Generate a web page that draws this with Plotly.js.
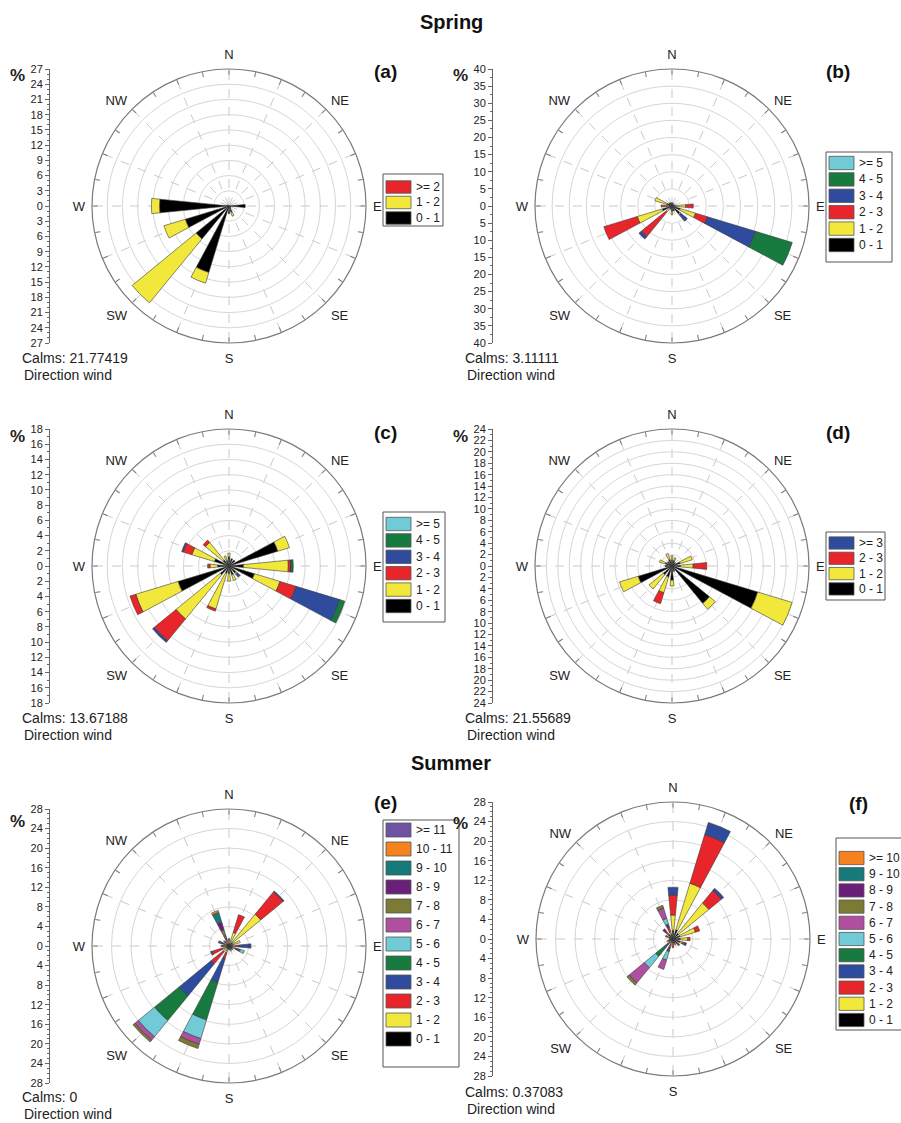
<!DOCTYPE html>
<html>
<head>
<meta charset="utf-8">
<script src="https://cdn.plot.ly/plotly-3.0.1.min.js"></script>
<style>
  html, body { margin: 0; padding: 0; background: #ffffff; }
  #chart { width: 901px; height: 1123px; }
</style>
</head>
<body>
<div id="chart"></div>
<script>
// Compass sectors (degrees clockwise from north) and their labels
const dirAngles = [0, 22.5, 45, 67.5, 90, 112.5, 135, 157.5, 180, 202.5, 225, 247.5, 270, 292.5, 315, 337.5];
const dirLabels = ['N', '', 'NE', '', 'E', '', 'SE', '', 'S', '', 'SW', '', 'W', '', 'NW', ''];

// Speed classes (m/s) for each rose
const binsA = ['0 - 1', '1 - 2', '>= 2'];
const binsB = ['0 - 1', '1 - 2', '2 - 3', '3 - 4', '4 - 5', '>= 5'];
const binsC = ['0 - 1', '1 - 2', '2 - 3', '3 - 4', '4 - 5', '>= 5'];
const binsD = ['0 - 1', '1 - 2', '2 - 3', '>= 3'];
const binsE = ['0 - 1', '1 - 2', '2 - 3', '3 - 4', '4 - 5', '5 - 6', '6 - 7', '7 - 8', '8 - 9', '9 - 10', '10 - 11', '>= 11'];
const binsF = ['0 - 1', '1 - 2', '2 - 3', '3 - 4', '4 - 5', '5 - 6', '6 - 7', '7 - 8', '8 - 9', '9 - 10', '>= 10'];

// Frequency (%) per speed class, one row per class, 16 directions N..NNW
const springA = [
  [0, 0, 0, 0, 3.2, 0.4, 0.4, 1.3, 1.5, 13.7, 8.4, 9.0, 13.7, 0.4, 0, 0],
  [0, 0, 0, 0, 0, 0, 0, 0.8, 0, 2.2, 16.3, 4.4, 1.6, 0, 0, 0],
  [0, 0, 0, 0, 0, 0, 0, 0, 0, 0, 0, 0, 0, 0, 0, 0]
];
const springB = [
  [1.0, 0.8, 0.5, 0.8, 1.0, 2.5, 3.0, 1.5, 1.5, 1.0, 1.0, 3.0, 1.0, 1.5, 1.2, 1.0],
  [0, 0, 0, 0, 3.0, 4.7, 0.3, 0, 1.1, 0, 1.4, 7.6, 0.5, 3.7, 0, 0],
  [0, 0, 0, 0, 2.2, 3.6, 0.3, 0, 0, 0, 9.1, 10.2, 1.7, 0, 0, 0],
  [0, 0, 0, 0, 0, 14.7, 2.2, 0, 0, 0, 1.0, 0, 0, 0, 0, 0],
  [0, 0, 0, 0, 0, 11.2, 0, 0, 0, 0, 0, 0, 0, 0, 0, 0],
  [0, 0, 0, 0, 0, 0, 0, 0, 0, 0, 0, 0, 0, 0, 0, 0]
];
const springC = [
  [1.2, 1.0, 1.0, 6.7, 1.9, 3.5, 1.2, 1.2, 1.0, 1.0, 1.5, 7.0, 1.5, 2.0, 1.0, 0.8],
  [0.5, 0, 0, 1.6, 5.9, 3.5, 0.2, 0.8, 1.0, 4.9, 7.5, 5.8, 1.0, 3.1, 3.0, 0.6],
  [0, 0, 0, 0, 0.3, 2.2, 0.1, 0, 0, 0.3, 3.7, 0.8, 0.3, 1.2, 0.4, 0],
  [0, 0, 0, 0, 0.05, 6.0, 0.4, 0, 0, 0, 0.3, 0, 0, 0.2, 0, 0],
  [0, 0, 0, 0, 0.3, 0.7, 0, 0, 0, 0, 0, 0, 0, 0, 0, 0],
  [0, 0, 0, 0, 0, 0, 0, 0, 0, 0, 0, 0, 0, 0, 0, 0]
];
const springD = [
  [1.0, 1.0, 0.8, 1.5, 1.5, 15.7, 8.5, 1.0, 2.5, 2.0, 2.0, 6.2, 1.2, 1.2, 1.0, 1.2],
  [0.8, 0.5, 0, 2.2, 2.2, 6.3, 1.3, 0, 1.0, 2.9, 3.2, 3.4, 0, 1.1, 0, 1.1],
  [0, 0, 0, 0, 2.4, 0, 0, 0, 0, 2.0, 0, 0, 0, 0, 0, 0],
  [0, 0, 0, 0, 0, 0, 0, 0, 0, 0, 0, 0, 0, 0, 0, 0]
];
const summerE = [
  [0.5, 0.5, 1.0, 0.8, 0.8, 0.8, 1.0, 0.8, 0.8, 0.6, 0.6, 0.8, 0.6, 0.6, 0.6, 0.5],
  [0.7, 2.4, 7.4, 1.6, 0.6, 0.5, 0, 0.3, 0, 0.9, 1.0, 0.6, 0.4, 0.3, 0, 0.5],
  [0.3, 3.8, 5.9, 0, 0.6, 0.4, 0, 0, 0, 1.2, 3.1, 2.3, 0.3, 0.3, 0.4, 0.3],
  [0, 0, 0.25, 0, 2.3, 0.5, 0, 0, 0, 5.1, 8.5, 0.2, 0.3, 0.3, 0.2, 0.3],
  [0, 0, 0, 0, 0, 0.2, 0, 0, 0, 8.0, 6.5, 0, 0, 0.2, 0, 0.2],
  [0, 0, 0, 0, 0, 0.9, 0, 0, 0, 4.0, 4.3, 0, 0, 0.2, 0, 0.2],
  [0, 0, 0, 0, 0.2, 0, 0, 0, 0, 1.2, 0.9, 0, 0, 0.2, 0.2, 0.3],
  [0, 0, 0, 0, 0, 0, 0, 0, 0, 0.9, 0.5, 0, 0, 0, 0, 1.2],
  [0, 0, 0, 0, 0, 0, 0, 0, 0, 0, 0, 0, 0, 0, 0, 1.6],
  [0, 0, 0, 0, 0, 0, 0, 0, 0, 0, 0, 0, 0, 0, 0, 2.1],
  [0, 0, 0, 0, 0, 0, 0, 0, 0, 0, 0, 0, 0, 0.2, 0, 0.4],
  [0, 0, 0, 0, 0, 0, 0, 0, 0, 0, 0, 0, 0, 0, 0, 0]
];
const summerF = [
  [1.8, 2.0, 1.5, 1.5, 1.5, 1.5, 1.2, 1.0, 0.8, 0.8, 0.8, 1.0, 0.8, 1.0, 1.2, 1.0],
  [3.1, 9.9, 8.0, 3.3, 1.5, 0.5, 0, 0.3, 0, 0.4, 0.2, 0.3, 0, 0.3, 0, 0.5],
  [4.1, 10.4, 3.3, 0.9, 0.5, 0.5, 0.3, 0, 1.0, 0.8, 0.3, 0, 0, 0.3, 0.8, 1.1],
  [1.6, 2.6, 0.6, 0, 0, 0.4, 0.3, 0, 0, 0.5, 0.9, 0, 0, 0, 0.3, 0.6],
  [0, 0, 0, 0, 0, 0, 0, 0, 0, 0.2, 2.4, 0, 0, 0, 0, 0],
  [0, 0, 0, 0, 0, 0, 0, 0, 0, 1.8, 3.0, 0, 0, 0, 0, 1.2],
  [0, 0, 0, 0, 0, 0, 0, 0, 0, 2.0, 4.0, 0, 0, 0, 0, 2.2],
  [0, 0, 0, 0, 0, 0, 0, 0, 0, 0, 0.6, 0, 0, 0, 0, 0.6],
  [0, 0, 0, 0, 0, 0, 0, 0, 0, 0, 0, 0, 0, 0, 0.4, 0],
  [0, 0, 0, 0, 0, 0, 0, 0, 0, 0, 0, 0, 0, 0, 0, 0],
  [0, 0, 0, 0, 0, 0, 0, 0, 0, 0, 0, 0, 0, 0, 0, 0]
];

// Calm percentages printed under each rose
const calmsA = '21.77419', calmsB = '3.11111', calmsC = '13.67188',
      calmsD = '21.55689', calmsE = '0', calmsF = '0.37083';

// Speed-class palette
const PAL = {
  black: '#000000', yellow: '#f1e83b', red: '#e8252a', blue: '#2f4b9d', green: '#177a3e',
  cyan: '#70cbd7', magenta: '#b04fa0', olive: '#7b7b35', purple: '#6a1f79',
  teal: '#16797a', orange: '#f5821f', violet: '#7052a3'
};
const colorsA = [PAL.black, PAL.yellow, PAL.red];
const colorsB = [PAL.black, PAL.yellow, PAL.red, PAL.blue, PAL.green, PAL.cyan];
const colorsD = [PAL.black, PAL.yellow, PAL.red, PAL.blue];
const colorsE = [PAL.black, PAL.yellow, PAL.red, PAL.blue, PAL.green, PAL.cyan, PAL.magenta,
                 PAL.olive, PAL.purple, PAL.teal, PAL.orange, PAL.violet];
const colorsF = colorsE.slice(0, 11);

// Page geometry (pixels) -> paper fractions
const W = 901, H = 1123;
const fx = x => x / W;
const fy = y => 1 - y / H;
const FONT = 'Liberation Sans, Arial, Helvetica, sans-serif';

const panels = [
  { tag: '(a)', data: springA, bins: binsA, colors: colorsA, calms: calmsA, cx: 229, cy: 206, rmax: 27, step: 3, minor: 1, axisX: 50,
    legBox: [383, 174, 443, 226], legFirst: 187, legGap: 15.5, letter: [385, 71], pct: [17, 76], calmsXY: [20, 358] },
  { tag: '(b)', data: springB, bins: binsB, colors: colorsB, calms: calmsB, cx: 672, cy: 206, rmax: 40, step: 5, minor: 2.5, axisX: 493,
    legBox: [826, 152, 892, 262], legFirst: 163, legGap: 16.4, letter: [838, 71], pct: [460, 76], calmsXY: [463, 358] },
  { tag: '(c)', data: springC, bins: binsC, colors: colorsB, calms: calmsC, cx: 229, cy: 566, rmax: 18, step: 2, minor: 1, axisX: 50,
    legBox: [383, 512, 445, 622], legFirst: 524, legGap: 16.4, letter: [385, 432], pct: [17, 437], calmsXY: [20, 718] },
  { tag: '(d)', data: springD, bins: binsD, colors: colorsD, calms: calmsD, cx: 672, cy: 566, rmax: 24, step: 2, minor: 1, axisX: 493,
    legBox: [826, 532, 885, 600], legFirst: 543, legGap: 15.3, letter: [838, 432], pct: [460, 437], calmsXY: [463, 718] },
  { tag: '(e)', data: summerE, bins: binsE, colors: colorsE, calms: calmsE, cx: 229, cy: 946, rmax: 28, step: 4, minor: 1, axisX: 50,
    legBox: [383, 820, 459, 1067], legFirst: 830, legGap: 19, letter: [385, 802], pct: [17, 821], calmsXY: [20, 1097] },
  { tag: '(f)', data: summerF, bins: binsF, colors: colorsF, calms: calmsF, cx: 673, cy: 939, rmax: 28, step: 4, minor: 1, axisX: 493,
    legBox: [836, 838, 915, 1030], legFirst: 858, legGap: 16.2, letter: [858, 803], pct: [460, 823], calmsXY: [463, 1092] }
];

const R = 137; // rose radius in px
const minorTicks = [];
for (let a = 0; a < 360; a += 11.25) minorTicks.push(a);

const traces = [];
const barTraces = [];
const layout = {
  width: W, height: H,
  margin: { l: 0, r: 0, t: 0, b: 0 },
  paper_bgcolor: '#ffffff',
  font: { family: FONT, color: '#222222', size: 12 },
  showlegend: false,
  shapes: [],
  annotations: [
    { text: '<b>Spring</b>', x: fx(451), y: fy(22), xref: 'paper', yref: 'paper', xanchor: 'center', yanchor: 'middle', showarrow: false, font: { size: 20, color: '#111' } },
    { text: '<b>Summer</b>', x: fx(451), y: fy(763), xref: 'paper', yref: 'paper', xanchor: 'center', yanchor: 'middle', showarrow: false, font: { size: 20, color: '#111' } }
  ]
};

function note(text, x, y, size, anchor, color) {
  layout.annotations.push({
    text: text, x: fx(x), y: fy(y), xref: 'paper', yref: 'paper',
    xanchor: anchor || 'center', yanchor: 'middle', showarrow: false,
    font: { size: size, color: color || '#222' }
  });
}

panels.forEach((p, i) => {
  const gridId = 'polar' + (i === 0 ? '' : String(i + 1));   // grid, labels, background
  const barId = 'polar' + String(i + 7);                       // stacked bars + rim ticks
  const axSfx = i === 0 ? '' : String(i + 1);
  const domain = { x: [fx(p.cx - R), fx(p.cx + R)], y: [fy(p.cy + R), fy(p.cy - R)] };

  // empty trace so the grid subplot exists underneath the bars
  traces.push({ type: 'barpolar', subplot: gridId, r: [], theta: [], showlegend: false, hoverinfo: 'skip' });

  p.data.forEach((vals, k) => {
    barTraces.push({
      type: 'barpolar',
      subplot: barId,
      name: p.bins[k],
      r: vals,
      theta: dirAngles,
      width: 11.25,
      marker: { color: p.colors[k], line: { color: '#3a3a3a', width: 0.6 } },
      showlegend: false,
      hoverinfo: 'skip'
    });
  });

  layout[gridId] = {
    domain: domain,
    bgcolor: '#ffffff',
    radialaxis: {
      range: [0, p.rmax], tick0: 0, dtick: p.step,
      showgrid: true, gridcolor: '#d6d6d6', gridwidth: 1,
      showline: false, showticklabels: false, ticks: ''
    },
    angularaxis: {
      rotation: 90, direction: 'clockwise',
      tickmode: 'array', tickvals: dirAngles, ticktext: dirLabels,
      showgrid: true, gridcolor: '#c9c9c9', gridwidth: 1, griddash: 'dash',
      showline: false, ticks: 'outside', ticklen: 4, tickcolor: 'rgba(0,0,0,0)',
      tickfont: { size: 13, color: '#222' }
    }
  };
  layout[barId] = {
    domain: domain,
    bgcolor: 'rgba(0,0,0,0)',
    barmode: 'stack',
    radialaxis: {
      range: [0, p.rmax], showgrid: false, showline: false,
      showticklabels: false, ticks: ''
    },
    angularaxis: {
      rotation: 90, direction: 'clockwise',
      tickmode: 'array', tickvals: minorTicks, showticklabels: false,
      showgrid: false, showline: true, linecolor: '#7a7a7a', linewidth: 1.2,
      ticks: 'inside', ticklen: 5, tickcolor: '#7a7a7a', tickwidth: 1
    }
  };

  // Percentage scale drawn as a symmetric vertical axis left of the rose
  const tickvals = [];
  for (let v = -p.rmax; v <= p.rmax + 1e-9; v += p.step) tickvals.push(v);
  traces.push({ type: 'scatter', x: [], y: [], xaxis: 'x' + axSfx, yaxis: 'y' + axSfx, showlegend: false, hoverinfo: 'skip' });
  layout['xaxis' + axSfx] = {
    domain: [fx(p.axisX), fx(p.axisX) + 0.02], anchor: 'y' + axSfx,
    visible: false, range: [0, 1], fixedrange: true
  };
  layout['yaxis' + axSfx] = {
    domain: [fy(p.cy + R), fy(p.cy - R)], anchor: 'x' + axSfx,
    range: [-p.rmax, p.rmax], tickmode: 'array', tickvals: tickvals,
    ticktext: tickvals.map(v => String(Math.abs(v))),
    ticks: 'outside', ticklen: 4, tickcolor: '#666', tickwidth: 1,
    showline: true, linecolor: '#666', linewidth: 1,
    showgrid: false, zeroline: false, fixedrange: true,
    tickfont: { size: 11, color: '#222' },
    minor: { ticks: 'outside', ticklen: 2, tick0: 0, dtick: p.minor, tickcolor: '#666', showgrid: false }
  };

  // Speed-class key: highest class on top
  const [bx0, by0, bx1, by1] = p.legBox;
  layout.shapes.push({ type: 'rect', xref: 'paper', yref: 'paper', x0: fx(bx0), x1: fx(bx1), y0: fy(by1), y1: fy(by0),
    line: { color: '#555', width: 1 }, fillcolor: '#ffffff', layer: 'above' });
  const nb = p.bins.length;
  const swH = Math.min(p.legGap - 3, 14);
  for (let j = 0; j < nb; j++) {
    const k = nb - 1 - j;
    const yc = p.legFirst + j * p.legGap;
    layout.shapes.push({ type: 'rect', xref: 'paper', yref: 'paper',
      x0: fx(bx0 + 3), x1: fx(bx0 + 28), y0: fy(yc + swH / 2), y1: fy(yc - swH / 2),
      fillcolor: p.colors[k], line: { color: '#555', width: 0.8 }, layer: 'above' });
    note(p.bins[k], bx0 + 31, yc, 12, 'left');
  }

  note('<b>' + p.tag + '</b>', p.letter[0], p.letter[1], 19, 'center', '#111');
  note('<b>%</b>', p.pct[0], p.pct[1], 17, 'center');
  note('Calms: ' + p.calms, p.calmsXY[0], p.calmsXY[1], 14, 'left');
  note('Direction wind', p.calmsXY[0] + 2, p.calmsXY[1] + 17, 14, 'left');
});

Plotly.newPlot('chart', traces.concat(barTraces), layout, { staticPlot: true, displayModeBar: false });
</script>
</body>
</html>
